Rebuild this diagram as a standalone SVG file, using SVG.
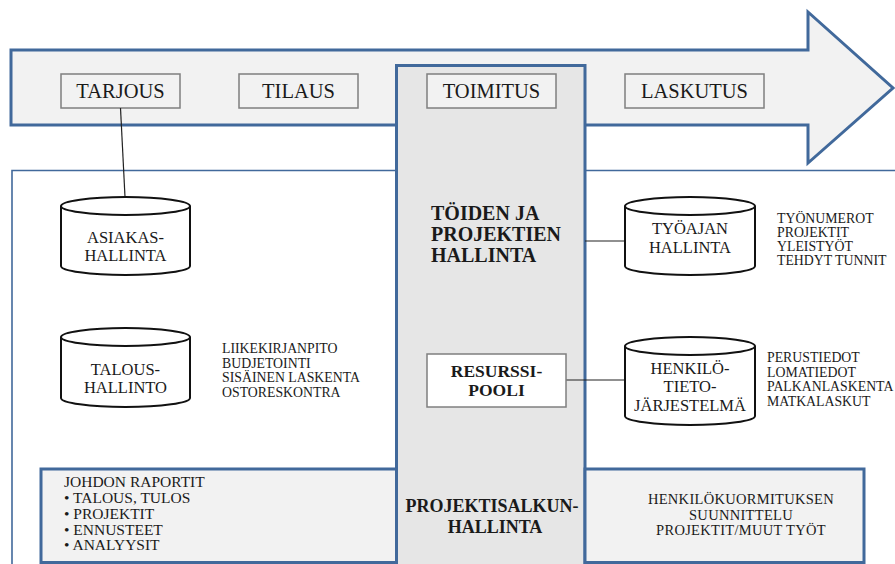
<svg xmlns="http://www.w3.org/2000/svg" width="895" height="564" viewBox="0 0 895 564">
  <defs>
    <style>
      .serif { font-family: "Liberation Serif", "Times New Roman", serif; fill: #1a1a1a; }
      .lbl { font-size: 20.5px; text-anchor: middle; }
      .cyl-t { font-size: 16.5px; text-anchor: middle; }
      .list { font-size: 13.8px; }
      .bold { font-weight: bold; }
      .blue { stroke: #41699b; }
      .phase { fill: #f2f2f2; stroke: #7f7f7f; stroke-width: 1.5; }
      .cyl { fill: #ffffff; stroke: #111111; stroke-width: 2; }
      .conn { stroke: #222222; stroke-width: 1.2; fill: none; }
    </style>
  </defs>

  <rect width="895" height="564" fill="#ffffff"/>

  <!-- system area frame -->
  <g id="system-area">
    <path d="M12 566 V170.5 H900" fill="none" class="blue" stroke-width="1.6"/>
  </g>

  <!-- process arrow -->
  <g id="process-arrow">
    <polygon points="11,50 808,50 808,12 893,88 808,163 808,125 11,125" fill="#f2f2f2" class="blue" stroke-width="3" stroke-linejoin="miter"/>
  </g>

  <!-- delivery column -->
  <g id="delivery-column">
    <rect x="396.5" y="65.5" width="188.5" height="510" fill="#e6e6e6" class="blue" stroke-width="3"/>
    <text class="serif bold" font-size="20" x="431" y="220">TÖIDEN JA</text>
    <text class="serif bold" font-size="20" x="431" y="241">PROJEKTIEN</text>
    <text class="serif bold" font-size="20" x="431" y="262">HALLINTA</text>
  </g>

  <!-- phases -->
  <g id="tarjous">
    <rect class="phase" x="61" y="74" width="119" height="34"/>
    <text class="serif lbl" x="120.5" y="98">TARJOUS</text>
  </g>
  <g id="tilaus">
    <rect class="phase" x="239" y="74" width="119" height="34"/>
    <text class="serif lbl" x="298.5" y="98">TILAUS</text>
  </g>
  <g id="toimitus">
    <rect class="phase" x="427" y="74" width="129" height="34"/>
    <text class="serif lbl" x="491.5" y="98">TOIMITUS</text>
  </g>
  <g id="laskutus">
    <rect class="phase" x="625" y="74" width="139" height="34"/>
    <text class="serif lbl" x="694.5" y="98">LASKUTUS</text>
  </g>

  <!-- connectors -->
  <g id="connectors">
    <line class="conn" x1="120.5" y1="108" x2="125" y2="197"/>
    <line class="conn" x1="585" y1="241" x2="625" y2="241"/>
    <line class="conn" x1="566" y1="380" x2="625" y2="380"/>
  </g>

  <!-- databases -->
  <g id="asiakashallinta">
    <path class="cyl" d="M61 206 A64.5 9 0 0 1 190 206 V266 A64.5 9 0 0 1 61 266 Z"/>
    <path class="cyl" d="M61 206 A64.5 9 0 0 0 190 206" fill="none"/>
    <text class="serif cyl-t" x="125.5" y="242.5">ASIAKAS-</text>
    <text class="serif cyl-t" x="125.5" y="260.5">HALLINTA</text>
  </g>
  <g id="taloushallinto">
    <path class="cyl" d="M61 337 A64.5 9 0 0 1 190 337 V398 A64.5 9 0 0 1 61 398 Z"/>
    <path class="cyl" d="M61 337 A64.5 9 0 0 0 190 337" fill="none"/>
    <text class="serif cyl-t" x="125.5" y="374.5">TALOUS-</text>
    <text class="serif cyl-t" x="125.5" y="392.5">HALLINTO</text>
    <text class="serif list" x="222" y="353">LIIKEKIRJANPITO</text>
    <text class="serif list" x="222" y="367.5">BUDJETOINTI</text>
    <text class="serif list" x="222" y="382">SISÄINEN LASKENTA</text>
    <text class="serif list" x="222" y="396.5">OSTORESKONTRA</text>
  </g>
  <g id="tyoajan-hallinta">
    <path class="cyl" d="M625 206 A65 9 0 0 1 755 206 V266 A65 9 0 0 1 625 266 Z"/>
    <path class="cyl" d="M625 206 A65 9 0 0 0 755 206" fill="none"/>
    <text class="serif cyl-t" font-size="17" x="690" y="233.5">TYÖAJAN</text>
    <text class="serif cyl-t" font-size="17" x="690" y="252.5">HALLINTA</text>
    <text class="serif list" x="777" y="223">TYÖNUMEROT</text>
    <text class="serif list" x="777" y="237">PROJEKTIT</text>
    <text class="serif list" x="777" y="251">YLEISTYÖT</text>
    <text class="serif list" x="777" y="265">TEHDYT TUNNIT</text>
  </g>
  <g id="henkilotietojarjestelma">
    <path class="cyl" d="M625 346 A65 9 0 0 1 755 346 V416 A65 9 0 0 1 625 416 Z"/>
    <path class="cyl" d="M625 346 A65 9 0 0 0 755 346" fill="none"/>
    <text class="serif cyl-t" x="690" y="373.5">HENKILÖ-</text>
    <text class="serif cyl-t" x="690" y="392">TIETO-</text>
    <text class="serif cyl-t" x="690" y="410.5">JÄRJESTELMÄ</text>
    <text class="serif list" x="767" y="362">PERUSTIEDOT</text>
    <text class="serif list" x="767" y="376.5">LOMATIEDOT</text>
    <text class="serif list" x="767" y="391">PALKANLASKENTA</text>
    <text class="serif list" x="767" y="405.5">MATKALASKUT</text>
  </g>

  <!-- resource pool -->
  <g id="resurssipooli">
    <rect x="427" y="354" width="139" height="53" fill="#ffffff" stroke="#7f7f7f" stroke-width="1.5"/>
    <text class="serif bold" font-size="17.5" text-anchor="middle" x="496.5" y="376.5">RESURSSI-</text>
    <text class="serif bold" font-size="17.5" text-anchor="middle" x="496.5" y="395.5">POOLI</text>
  </g>

  <!-- bottom row -->
  <g id="johdon-raportit">
    <rect x="41" y="469" width="355.5" height="93.5" fill="#f2f2f2" class="blue" stroke-width="3"/>
    <text class="serif" font-size="15.5" x="64" y="487">JOHDON RAPORTIT</text>
    <text class="serif" font-size="15.5" x="64" y="503">• TALOUS, TULOS</text>
    <text class="serif" font-size="15.5" x="64" y="518.5">• PROJEKTIT</text>
    <text class="serif" font-size="15.5" x="64" y="534.5">• ENNUSTEET</text>
    <text class="serif" font-size="15.5" x="64" y="550">• ANALYYSIT</text>
  </g>
  <g id="projektisalkunhallinta">
    <text class="serif bold" font-size="18" text-anchor="middle" x="492" y="512">PROJEKTISALKUN-</text>
    <text class="serif bold" font-size="18" text-anchor="middle" x="495" y="533">HALLINTA</text>
  </g>
  <g id="henkilokuormitus">
    <rect x="585" y="469" width="279" height="93.5" fill="#f2f2f2" class="blue" stroke-width="3"/>
    <text class="serif" font-size="14.5" letter-spacing="0.3" text-anchor="middle" x="741" y="504">HENKILÖKUORMITUKSEN</text>
    <text class="serif" font-size="14.5" letter-spacing="0.3" text-anchor="middle" x="741" y="519.5">SUUNNITTELU</text>
    <text class="serif" font-size="14.5" letter-spacing="0.3" text-anchor="middle" x="741" y="535">PROJEKTIT/MUUT TYÖT</text>
  </g>
</svg>
